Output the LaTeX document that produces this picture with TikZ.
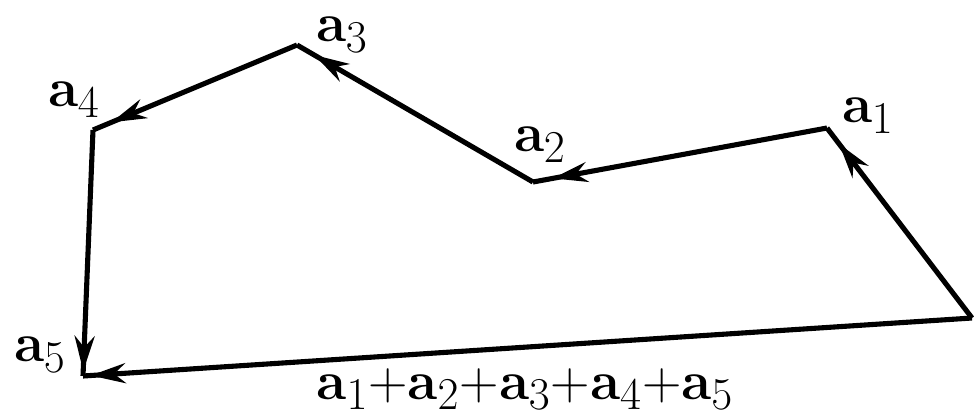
\documentclass[tikz,border=0pt]{standalone}
\usepackage{amsmath}
\usepackage{tikz}
\usetikzlibrary{arrows.meta,decorations.markings}

\begin{document}
\begin{tikzpicture}[x=0.2mm, y=-0.2mm,
  vec/.style={line width=2.9pt, line join=round,
    postaction={decorate, decoration={markings,
      mark=at position #1 with {\arrow{Stealth[length=7mm, width=4mm]}}}}},
  vec/.default=-4mm,
  lbl/.style={font=\Huge, scale=1.25, inner sep=0pt}]
\useasboundingbox (0,0) rectangle (974,417);
\coordinate (o) at (972,318);
\coordinate (p1) at (827,128);
\coordinate (p2) at (533,182);
\coordinate (p3) at (297,45);
\coordinate (p4) at (93,130);
\coordinate (p5) at (83,376);
\draw[vec] (o) -- (p1);
\draw[vec] (p1) -- (p2);
\draw[vec] (p2) -- (p3);
\draw[vec] (p3) -- (p4);
\draw[vec=-1mm] (p4) -- (p5);
\draw[vec=-1.5mm] (o) -- (p5);
\node[lbl] (l1) at (868,116) {$\mathbf{a}_1$};
\node[lbl] (l2) at (540,145) {$\mathbf{a}_2$};
\node[lbl] (l3) at (342,35) {$\mathbf{a}_3$};
\node[lbl] (l4) at (74,100) {$\mathbf{a}_4$};
\node[lbl] (l5) at (40,355) {$\mathbf{a}_5$};
\node[lbl] (sum) at (525,389) {$\mathbf{a}_1{+}\mathbf{a}_2{+}\mathbf{a}_3{+}\mathbf{a}_4{+}\mathbf{a}_5$};
\end{tikzpicture}
\end{document}
